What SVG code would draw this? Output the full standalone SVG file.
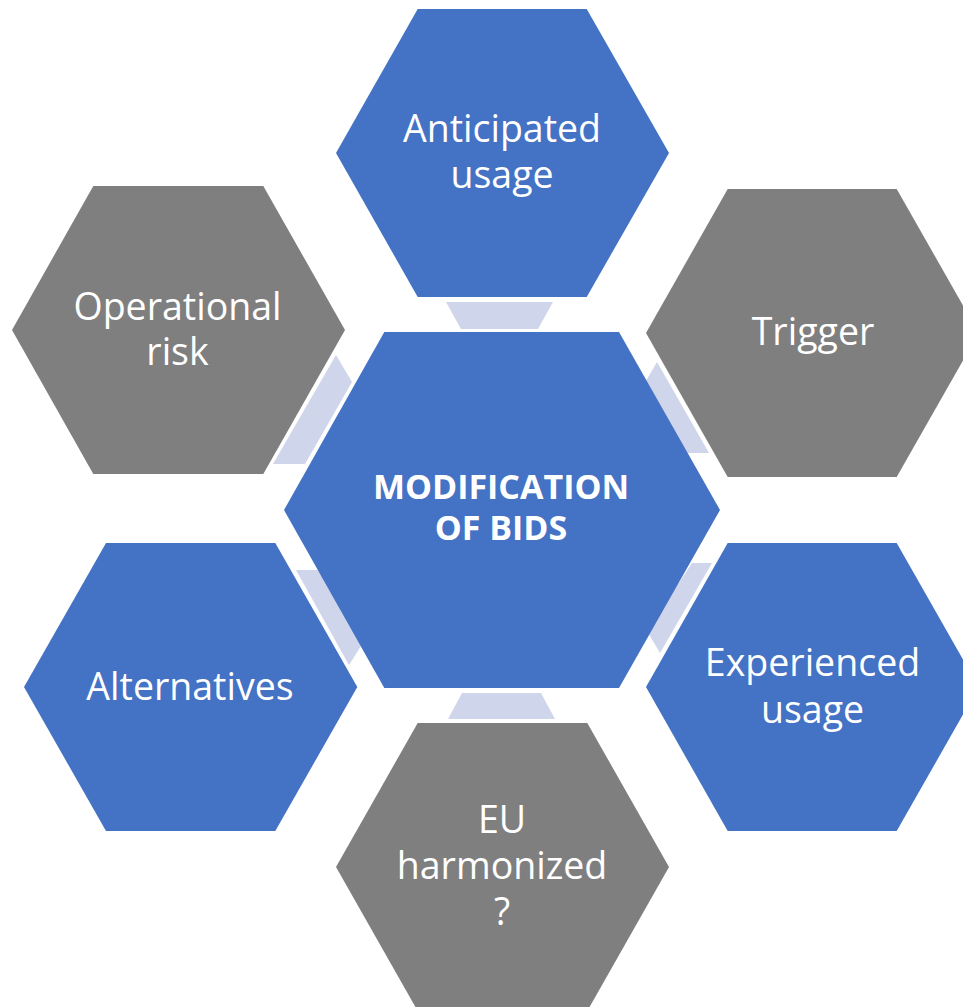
<svg xmlns="http://www.w3.org/2000/svg" width="963" height="1007" viewBox="0 0 963 1007">
<style>
.blue{fill:#4472C4}
.gray{fill:#7F7F7F}
.conn{fill:#CFD5EA}
.t{font-family:"Open Sans","Noto Sans","DejaVu Sans",sans-serif;font-size:37.5px;fill:#FFFFFF;text-anchor:middle}
.b{font-family:"Open Sans","Noto Sans","DejaVu Sans",sans-serif;font-size:34px;font-weight:bold;fill:#FFFFFF;text-anchor:middle}
</style>
<rect width="963" height="1007" fill="#FFFFFF"/>
<g id="connectors">
<polygon class="conn" points="446,302 553,302 538,329 461,329"/>
<polygon class="conn" points="657,362 709,453 681,453 643,386"/>
<polygon class="conn" points="692,563 712,563 660,653 647,631"/>
<polygon class="conn" points="462,693 541,693 555,719 448,719"/>
<polygon class="conn" points="296,570 327,570 366,638 349,665"/>
<polygon class="conn" points="336,355 352,382 305,464 273,464"/>
</g>
<g id="center">
<polygon class="blue" points="384.3,332 619,332 720,510 619,688 384.3,688 284,510"/>
<text class="b"><tspan x="501" y="499">MODIFICATION</tspan><tspan x="501" y="540">OF BIDS</tspan></text>
</g>
<g id="anticipated">
<polygon class="blue" points="417.7,9 586.7,9 669,153 586.7,297 417.7,297 336,153"/>
<text class="t"><tspan x="502" y="142">Anticipated</tspan><tspan x="502" y="187.5">usage</tspan></text>
</g>
<g id="trigger">
<polygon class="gray" points="727.7,189 896.7,189 978.7,333 896.7,477 727.7,477 646,333"/>
<text class="t" x="813" y="345">Trigger</text>
</g>
<g id="experienced">
<polygon class="blue" points="727.7,543 896.7,543 978.7,687 896.7,831 727.7,831 646,687"/>
<text class="t"><tspan x="812.5" y="676">Experienced</tspan><tspan x="812.5" y="722.5">usage</tspan></text>
</g>
<g id="eu">
<polygon class="gray" points="417.7,723 587.3,723 669,867 587.3,1011 417.7,1011 336,867"/>
<text class="t"><tspan x="502" y="833">EU</tspan><tspan x="502" y="879">harmonized</tspan><tspan x="502" y="925">?</tspan></text>
</g>
<g id="alternatives">
<polygon class="blue" points="106,543 275.3,543 357.3,687 275.3,831 106,831 24,687"/>
<text class="t" x="190" y="700">Alternatives</text>
</g>
<g id="operational">
<polygon class="gray" points="93.3,186 263.3,186 345,330 263.3,474 93.3,474 12,330"/>
<text class="t"><tspan x="177.5" y="319.5">Operational</tspan><tspan x="177.5" y="365">risk</tspan></text>
</g>
</svg>
